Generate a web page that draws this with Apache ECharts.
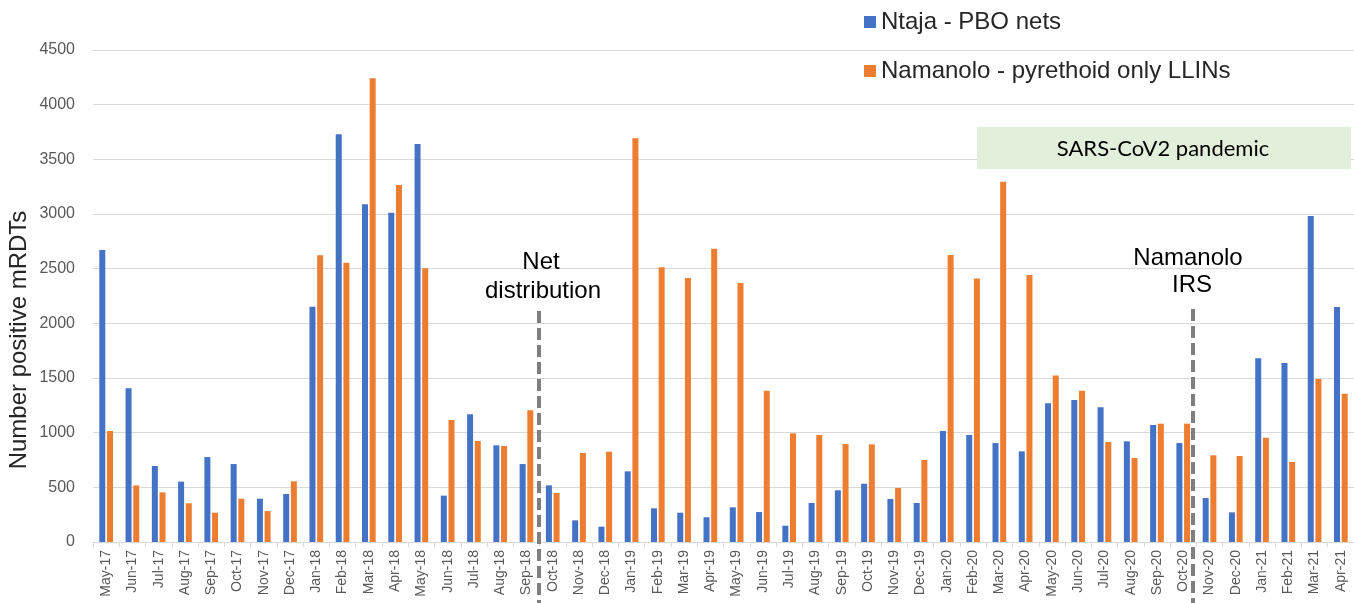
<!DOCTYPE html>
<html><head><meta charset="utf-8">
<script src="https://cdn.jsdelivr.net/npm/echarts@6/dist/echarts.min.js"></script>
<style>html,body{margin:0;padding:0;background:#fff}#c{width:1354px;height:603px}</style>
</head><body><div id="c"></div>
<script>
const categories = ["May-17","Jun-17","Jul-17","Aug-17","Sep-17","Oct-17","Nov-17","Dec-17",
"Jan-18","Feb-18","Mar-18","Apr-18","May-18","Jun-18","Jul-18","Aug-18","Sep-18","Oct-18","Nov-18","Dec-18",
"Jan-19","Feb-19","Mar-19","Apr-19","May-19","Jun-19","Jul-19","Aug-19","Sep-19","Oct-19","Nov-19","Dec-19",
"Jan-20","Feb-20","Mar-20","Apr-20","May-20","Jun-20","Jul-20","Aug-20","Sep-20","Oct-20","Nov-20","Dec-20",
"Jan-21","Feb-21","Mar-21","Apr-21"];
const ntaja = [2671,1406,695,552,777,713,396,439,
2152,3729,3089,3012,3640,424,1168,884,713,518,198,140,
646,308,268,226,317,274,149,357,473,533,393,357,
1015,979,905,829,1268,1299,1232,921,1070,905,402,271,
1680,1637,2982,2149];
const namanolo = [1015,518,454,354,268,396,283,555,
2622,2555,4241,3265,2503,1116,924,878,1204,448,814,826,
3692,2512,2415,2683,2369,1384,994,979,896,893,494,750,
2625,2409,3296,2442,1524,1384,915,768,1082,1082,793,787,
954,732,1491,1356];
const yTicks = {min:0, max:4500, interval:500};
const seriesNames = ["Ntaja - PBO nets","Namanolo - pyrethoid only LLINs"];

const chart = echarts.init(document.getElementById('c'));
const font = "'Liberation Sans', Arial, sans-serif";
chart.setOption({
  animation:false,
  grid:{left:93, right:0, top:50, bottom:61},
  legend:{
    orient:'vertical', left:859, top:5, itemWidth:12, itemHeight:12, itemGap:25,
    icon:'rect',
    textStyle:{fontFamily:font, fontSize:24, color:'#262626'},
    data:seriesNames
  },
  xAxis:{
    type:'category', data:categories,
    axisLine:{lineStyle:{color:'#d9d9d9', width:1}},
    axisTick:{show:true, length:5, lineStyle:{color:'#d9d9d9'}},
    axisLabel:{rotate:90, interval:0, margin:8, fontFamily:font, fontSize:14, color:'#595959'}
  },
  yAxis:{
    type:'value', min:yTicks.min, max:yTicks.max, interval:yTicks.interval,
    axisLine:{show:false}, axisTick:{show:false},
    splitLine:{lineStyle:{color:'#d9d9d9', width:1}},
    axisLabel:{margin:18, fontFamily:font, fontSize:16, color:'#595959', formatter:v=>String(v)}
  },
  series:[
    {name:seriesNames[0], type:'bar', data:ntaja, barWidth:6, barGap:'28%', itemStyle:{color:'#4472C4'}},
    {name:seriesNames[1], type:'bar', data:namanolo, barWidth:6, barGap:'28%', itemStyle:{color:'#ED7D31'}}
  ],
  graphic:[
    {type:'rect', shape:{x:977, y:127, width:374, height:42}, style:{fill:'#e2efda'}, z:1},
    {type:'text', x:1163, y:149, style:{text:'SARS-CoV2 pandemic', font:"22px Lato, 'Open Sans', sans-serif", fill:'#000', textAlign:'center', textVerticalAlign:'middle'}, z:5},
    {type:'text', x:19, y:340, rotation:Math.PI/2, style:{text:'Number positive mRDTs', font:"24px 'Liberation Sans', Arial, sans-serif", fill:'#262626', textAlign:'center', textVerticalAlign:'middle'}, z:5},
    {type:'text', x:541, y:262, style:{text:'Net', font:"24px 'Liberation Sans', Arial, sans-serif", fill:'#000', textAlign:'center', textVerticalAlign:'middle'}, z:5},
    {type:'text', x:543, y:291, style:{text:'distribution', font:"24px 'Liberation Sans', Arial, sans-serif", fill:'#000', textAlign:'center', textVerticalAlign:'middle'}, z:5},
    {type:'line', shape:{x1:539, y1:311, x2:539, y2:603}, style:{stroke:'#7f7f7f', lineWidth:4, lineDash:[12,5]}, z:10},
    {type:'text', x:1188, y:258, style:{text:'Namanolo', font:"24px 'Liberation Sans', Arial, sans-serif", fill:'#000', textAlign:'center', textVerticalAlign:'middle'}, z:5},
    {type:'text', x:1192, y:285, style:{text:'IRS', font:"24px 'Liberation Sans', Arial, sans-serif", fill:'#000', textAlign:'center', textVerticalAlign:'middle'}, z:5},
    {type:'line', shape:{x1:1193, y1:309, x2:1193, y2:603}, style:{stroke:'#7f7f7f', lineWidth:4, lineDash:[12,5]}, z:10}
  ]
});
</script></body></html>
